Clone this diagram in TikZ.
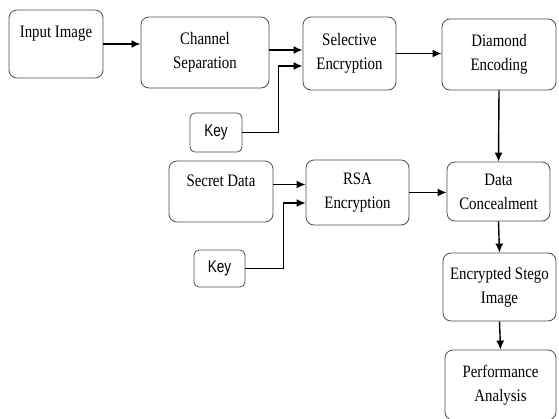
\documentclass[tikz,border=0pt]{standalone}
\usepackage{fontspec}
\setmainfont{Liberation Serif}[FakeStretch=0.85]
\newfontfamily\keyfont{Liberation Sans}[FakeStretch=0.8]
\usepackage{tikz}
\usetikzlibrary{arrows.meta, positioning, calc}

\begin{document}
\begin{tikzpicture}[
    x=1pt, y=-1pt,
    >={Latex[length=9pt,width=8pt]},
    % Estilos de las cajas y flechas
    block/.style={draw=black!70, line width=0.8pt, rounded corners=8pt, inner sep=0pt,
        align=center, font=\fontsize{17.5}{24}\selectfont},
    keybox/.style={block, rounded corners=5pt, font=\keyfont\fontsize{17}{20}\selectfont},
    toptext/.style={anchor=north, font=\fontsize{17.5}{24}\selectfont, inner sep=0pt},
    flow/.style={->, line width=1.4pt},
    bold flow/.style={->, line width=2pt},
    feed/.style={line width=0.9pt}
]
    \useasboundingbox (0,0) rectangle (559,418);

    % --- 1. FILA SUPERIOR ---
    \node[block, minimum width=94pt, minimum height=68pt,
        label={[toptext, yshift=-16pt]north:Input Image}] (in) at (56,44) {};
    \node[block, minimum width=128pt, minimum height=71pt] (chs) at (205,52.5) {Channel\\Separation};
    \node[block, minimum width=93pt, minimum height=73pt] (sel) at (349.5,53.5) {Selective\\Encryption};
    \node[block, minimum width=114pt, minimum height=71pt] (dia) at (499,54.5) {Diamond\\Encoding};
    \node[keybox, minimum width=52pt, minimum height=39pt] (key1) at (216,132.5) {Key};

    % --- 2. FILA CENTRAL ---
    \node[block, minimum width=104pt, minimum height=61pt,
        label={[toptext, yshift=-14pt]north:Secret Data}] (sec) at (221,191.5) {};
    \node[block, minimum width=103pt, minimum height=65pt] (rsa) at (357.5,192.5) {RSA\\Encryption};
    \node[block, minimum width=103pt, minimum height=59pt] (con) at (498.5,191.5) {Data\\Concealment};
    \node[keybox, minimum width=51pt, minimum height=37pt] (key2) at (219.5,268.5) {Key};

    % --- 3. COLUMNA DERECHA ---
    \node[block, minimum width=113pt, minimum height=68pt] (stg) at (499.5,287) {Encrypted Stego\\Image};
    \node[block, minimum width=111pt, minimum height=70pt] (per) at (500.5,385) {Performance\\Analysis};

    % --- 4. CONEXIONES ---
    \draw[bold flow] (in.east) -- (in.east -| chs.west);
    \draw[bold flow] ([yshift=3.5pt]sel.west -| chs.east) -- ([yshift=3.5pt]sel.west);
    \coordinate (k1c) at (278,66);
    \draw[feed] (key1.east) -| (k1c);
    \draw[bold flow] (k1c) -- (k1c -| sel.west);
    \draw[flow] (sel.east) -- (sel.east -| dia.west);
    \draw[flow] (dia.south) -- (con.north);

    \draw[flow] ([yshift=8pt]rsa.west -| sec.east) -- ([yshift=8pt]rsa.west);
    \coordinate (k2c) at (283,203);
    \draw[feed] (key2.east) -| (k2c);
    \draw[flow] (k2c) -- (k2c -| rsa.west);
    \draw[flow] (rsa.east) -- (rsa.east -| con.west);
    \draw[flow] (con.south) -- (stg.north);
    \draw[flow] (stg.south) -- (per.north);
\end{tikzpicture}
\end{document}
